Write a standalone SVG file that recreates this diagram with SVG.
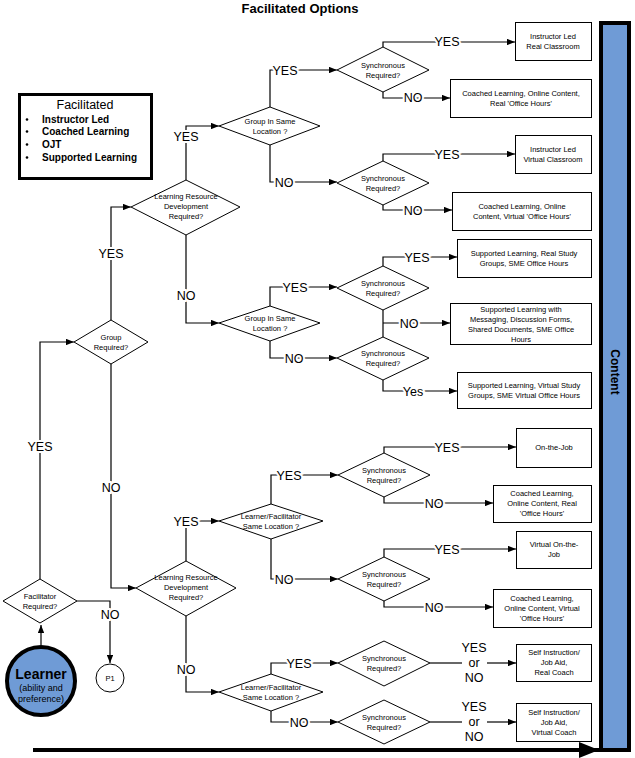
<svg xmlns="http://www.w3.org/2000/svg" width="635" height="758" viewBox="0 0 635 758">
<style>
text{font-family:"Liberation Sans",Arial,sans-serif;fill:#000}
.d{fill:#fff;stroke:#000;stroke-width:1}
.b{fill:#fff;stroke:#000;stroke-width:1}
.dt{font-size:7.5px;text-anchor:middle}
.bt{font-size:7.5px;text-anchor:middle}
.lb{font-size:12.5px;text-anchor:middle;stroke:#fff;stroke-width:4;paint-order:stroke}
.c{fill:none;stroke:#000;stroke-width:1.2;marker-end:url(#a)}
.cn{fill:none;stroke:#000;stroke-width:1.2}
</style>
<defs>
<marker id="a" viewBox="0 0 10 8" refX="10" refY="4" markerWidth="8" markerHeight="6.4" markerUnits="userSpaceOnUse" orient="auto"><path d="M0,0L10,4L0,8z" fill="#000"/></marker>
<marker id="big" viewBox="0 0 10 8" refX="10" refY="4" markerWidth="20" markerHeight="16" markerUnits="userSpaceOnUse" orient="auto"><path d="M0,0L10,4L0,8z" fill="#000"/></marker>
</defs>
<rect width="635" height="758" fill="#fff"/>
<text x="300" y="13" font-size="13" font-weight="bold" text-anchor="middle">Facilitated Options</text>

<g id="legend">
<rect x="19.5" y="94.5" width="132" height="84" fill="#fff" stroke="#000" stroke-width="3"/>
<text x="85" y="109" font-size="12.5" text-anchor="middle">Facilitated</text>
<g font-size="10" font-weight="bold">
<text x="42" y="123">Instructor Led</text>
<text x="42" y="135">Coached Learning</text>
<text x="42" y="148">OJT</text>
<text x="42" y="161">Supported Learning</text>
</g>
<g fill="#000"><circle cx="27" cy="119.5" r="1.3"/><circle cx="27" cy="131.5" r="1.3"/><circle cx="27" cy="144.5" r="1.3"/><circle cx="27" cy="157.5" r="1.3"/></g>
</g>

<g id="content">
<rect x="601" y="23" width="28" height="727" fill="#6f9bd6" stroke="#000" stroke-width="4"/>
<text transform="translate(611,372) rotate(90)" font-size="12" font-weight="bold" font-family="'DejaVu Sans',sans-serif" text-anchor="middle">Content</text>
</g>

<g id="connectors">
<path class="c" d="M41,645V625"/>
<path class="c" d="M40,579V342H74"/>
<path class="c" d="M77,601H110V663"/>
<path class="c" d="M111,320V207H131"/>
<path class="c" d="M111,364V588H136"/>
<path class="c" d="M186,180V126H219"/>
<path class="c" d="M186,235V323H219"/>
<path class="c" d="M270,107V70H337"/>
<path class="c" d="M270,145V182H337"/>
<path class="c" d="M383,47V42H515"/>
<path class="c" d="M383,92V98H450"/>
<path class="c" d="M383,161V154H515"/>
<path class="c" d="M383,205V210H452"/>
<path class="c" d="M270,306V287H337"/>
<path class="c" d="M270,341V358H337"/>
<path class="c" d="M383,266V257H457"/>
<path class="cn" d="M383,310V337"/>
<path class="c" d="M383,323H450"/>
<path class="c" d="M383,380V391H457"/>
<path class="c" d="M186,561V521H219"/>
<path class="c" d="M186,616V692H219"/>
<path class="c" d="M271,504V475H338"/>
<path class="c" d="M271,539V579H338"/>
<path class="c" d="M384,453V447H516"/>
<path class="c" d="M384,497V503H493"/>
<path class="c" d="M384,557V549H516"/>
<path class="c" d="M384,601V607H493"/>
<path class="c" d="M271,674V663H338"/>
<path class="c" d="M271,711V722H338"/>
<path class="cn" d="M430,663H462"/>
<path class="c" d="M487,663H516"/>
<path class="cn" d="M430,722H462"/>
<path class="c" d="M487,722H516"/>
<path d="M33,750H599" fill="none" stroke="#000" stroke-width="4" marker-end="url(#big)"/>
<g class="lb">
<text class="lb" x="40" y="451">YES</text>
<text class="lb" x="110" y="619">NO</text>
<text class="lb" x="111" y="258">YES</text>
<text class="lb" x="111" y="492">NO</text>
<text class="lb" x="186" y="141">YES</text>
<text class="lb" x="186" y="300">NO</text>
<text class="lb" x="285" y="75">YES</text>
<text class="lb" x="284" y="187">NO</text>
<text class="lb" x="447" y="46">YES</text>
<text class="lb" x="413" y="102">NO</text>
<text class="lb" x="447" y="159">YES</text>
<text class="lb" x="413" y="215">NO</text>
<text class="lb" x="295" y="292">YES</text>
<text class="lb" x="294" y="363">NO</text>
<text class="lb" x="417" y="262">YES</text>
<text class="lb" x="409" y="328">NO</text>
<text class="lb" x="413" y="396">Yes</text>
<text class="lb" x="186" y="526">YES</text>
<text class="lb" x="186" y="674">NO</text>
<text class="lb" x="289" y="480">YES</text>
<text class="lb" x="284" y="584">NO</text>
<text class="lb" x="447" y="452">YES</text>
<text class="lb" x="434" y="508">NO</text>
<text class="lb" x="447" y="554">YES</text>
<text class="lb" x="434" y="612">NO</text>
<text class="lb" x="299" y="668">YES</text>
<text class="lb" x="299" y="727">NO</text>
<text class="lb" x="474" y="652">YES</text>
<text class="lb" x="474" y="667">or</text>
<text class="lb" x="474" y="682">NO</text>
<text class="lb" x="474" y="711">YES</text>
<text class="lb" x="474" y="726">or</text>
<text class="lb" x="474" y="741">NO</text>
</g>
</g>

<g id="learner">
<circle cx="41" cy="681" r="34" fill="#6f9bd6" stroke="#000" stroke-width="4"/>
<text x="41" y="679" font-size="14" font-weight="bold" text-anchor="middle">Learner</text>
<text x="41" y="691" font-size="9" text-anchor="middle">(ability and</text>
<text x="41" y="702" font-size="9" text-anchor="middle">preference)</text>
</g>
<g id="p1"><circle cx="110" cy="678" r="14" fill="#fff" stroke="#000"/><text x="110" y="681" font-size="7.5" text-anchor="middle">P1</text></g>

<g id="fac"><path class="d" d="M3,601L40,579L77,601L40,623z"/><text class="dt" x="40" y="599">Facilitator</text><text class="dt" x="40" y="609">Required?</text></g>
<g id="grp"><path class="d" d="M74,342L111,320L148,342L111,364z"/><text class="dt" x="111" y="340">Group</text><text class="dt" x="111" y="350">Required?</text></g>
<g id="lrd1"><path class="d" d="M131,207L186,180L240,207L186,235z"/><text class="dt" x="186" y="199">Learning Resource</text><text class="dt" x="186" y="209">Development</text><text class="dt" x="186" y="219">Required?</text></g>
<g id="gsl1"><path class="d" d="M219,126L270,107L320,126L270,145z"/><text class="dt" x="270" y="124">Group In Same</text><text class="dt" x="270" y="134">Location ?</text></g>
<g id="gsl2"><path class="d" d="M219,323L270,306L320,323L270,341z"/><text class="dt" x="270" y="321">Group In Same</text><text class="dt" x="270" y="331">Location ?</text></g>
<g id="lrd2"><path class="d" d="M136,588L186,561L236,588L186,616z"/><text class="dt" x="186" y="580">Learning Resource</text><text class="dt" x="186" y="590">Development</text><text class="dt" x="186" y="600">Required?</text></g>
<g id="lf1"><path class="d" d="M219,521L271,504L323,521L271,539z"/><text class="dt" x="271" y="519">Learner/Facilitator</text><text class="dt" x="271" y="529">Same Location ?</text></g>
<g id="lf2"><path class="d" d="M219,692L271,674L323,692L271,711z"/><text class="dt" x="271" y="690">Learner/Facilitator</text><text class="dt" x="271" y="700">Same Location ?</text></g>

<g id="s1"><path class="d" d="M337,70L383,47L429,70L383,92z"/><text class="dt" x="383" y="68">Synchronous</text><text class="dt" x="383" y="78">Required?</text></g>
<g id="s2"><path class="d" d="M337,183L383,161L429,183L383,205z"/><text class="dt" x="383" y="181">Synchronous</text><text class="dt" x="383" y="191">Required?</text></g>
<g id="s3"><path class="d" d="M337,288L383,266L429,288L383,310z"/><text class="dt" x="383" y="286">Synchronous</text><text class="dt" x="383" y="296">Required?</text></g>
<g id="s4"><path class="d" d="M337,358L383,337L429,358L383,380z"/><text class="dt" x="383" y="356">Synchronous</text><text class="dt" x="383" y="366">Required?</text></g>
<g id="s5"><path class="d" d="M338,475L384,453L430,475L384,497z"/><text class="dt" x="384" y="473">Synchronous</text><text class="dt" x="384" y="483">Required?</text></g>
<g id="s6"><path class="d" d="M338,579L384,557L430,579L384,601z"/><text class="dt" x="384" y="577">Synchronous</text><text class="dt" x="384" y="587">Required?</text></g>
<g id="s7"><path class="d" d="M338,663L384,641L430,663L384,686z"/><text class="dt" x="384" y="661">Synchronous</text><text class="dt" x="384" y="671">Required?</text></g>
<g id="s8"><path class="d" d="M338,722L384,700L430,722L384,744z"/><text class="dt" x="384" y="720">Synchronous</text><text class="dt" x="384" y="730">Required?</text></g>

<g id="b1"><rect class="b" x="515.5" y="22.5" width="76" height="38"/><text class="bt" x="553" y="39">Instructor Led</text><text class="bt" x="553" y="49">Real Classroom</text></g>
<g id="b2"><rect class="b" x="450.5" y="79.5" width="141" height="38"/><text class="bt" x="521" y="96">Coached Learning, Online Content,</text><text class="bt" x="521" y="106">Real 'Office Hours'</text></g>
<g id="b3"><rect class="b" x="515.5" y="135.5" width="76" height="38"/><text class="bt" x="553" y="152">Instructor Led</text><text class="bt" x="553" y="162">Virtual Classroom</text></g>
<g id="b4"><rect class="b" x="452.5" y="192.5" width="139" height="38"/><text class="bt" x="522" y="209">Coached Learning, Online</text><text class="bt" x="522" y="219">Content, Virtual 'Office Hours'</text></g>
<g id="b5"><rect class="b" x="457.5" y="239.5" width="134" height="38"/><text class="bt" x="524" y="256">Supported Learning, Real Study</text><text class="bt" x="524" y="266">Groups, SME Office Hours</text></g>
<g id="b6"><rect class="b" x="450.5" y="303.5" width="141" height="41"/><text class="bt" x="521" y="312">Supported Learning with</text><text class="bt" x="521" y="322">Messaging, Discussion Forms,</text><text class="bt" x="521" y="332">Shared Documents, SME Office</text><text class="bt" x="521" y="342">Hours</text></g>
<g id="b7"><rect class="b" x="457.5" y="372.5" width="134" height="36"/><text class="bt" x="524" y="388">Supported Learning, Virtual Study</text><text class="bt" x="524" y="398">Groups, SME Virtual Office Hours</text></g>
<g id="b8"><rect class="b" x="516.5" y="428.5" width="75" height="39"/><text class="bt" x="554" y="450">On-the-Job</text></g>
<g id="b9"><rect class="b" x="493.5" y="485.5" width="98" height="37"/><text class="bt" x="542" y="496">Coached Learning,</text><text class="bt" x="542" y="506">Online Content, Real</text><text class="bt" x="542" y="516">'Office Hours'</text></g>
<g id="b10"><rect class="b" x="516.5" y="531.5" width="75" height="37"/><text class="bt" x="554" y="547">Virtual On-the-</text><text class="bt" x="554" y="557">Job</text></g>
<g id="b11"><rect class="b" x="493.5" y="589.5" width="98" height="38"/><text class="bt" x="542" y="601">Coached Learning,</text><text class="bt" x="542" y="611">Online Content, Virtual</text><text class="bt" x="542" y="621">'Office Hours'</text></g>
<g id="b12"><rect class="b" x="516.5" y="644.5" width="75" height="37"/><text class="bt" x="554" y="655">Self Instruction/</text><text class="bt" x="554" y="665">Job Aid,</text><text class="bt" x="554" y="675">Real Coach</text></g>
<g id="b13"><rect class="b" x="516.5" y="703.5" width="75" height="38"/><text class="bt" x="554" y="715">Self Instruction/</text><text class="bt" x="554" y="725">Job Aid,</text><text class="bt" x="554" y="735">Virtual Coach</text></g>
</svg>
